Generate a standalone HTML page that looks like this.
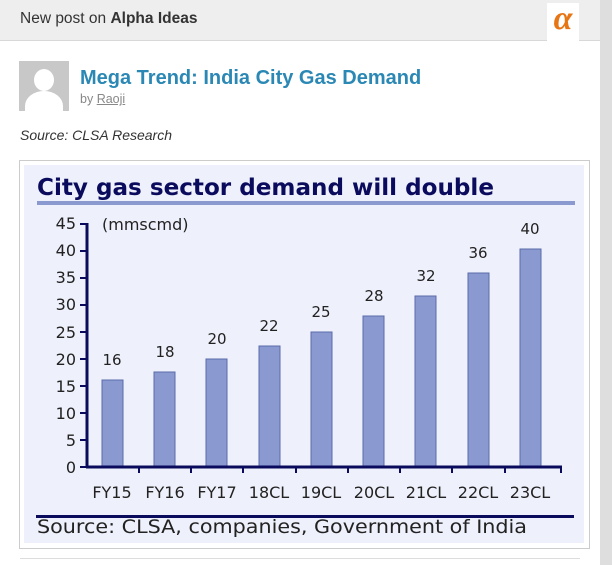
<!DOCTYPE html>
<html><head><style>
body{margin:0;width:612px;height:565px;background:#fff;font-family:"Liberation Sans",sans-serif;position:relative;overflow:hidden}
.hdr{position:absolute;left:0;top:0;width:600px;height:40px;background:#eeeeee;border-bottom:1px solid #d8d8d8}
.sb{position:absolute;left:600px;top:0;width:12px;height:565px;background:#dedede}
</style></head><body>
<div class="hdr"></div><div class="sb"></div>
<div style="position:absolute;left:20px;top:10px;font-size:15.5px;color:#333">New post on <b>Alpha Ideas</b></div>
<div style="position:absolute;left:547px;top:3px;width:32px;height:38px;background:#fff;color:#e87514;font:italic bold 34px 'Liberation Serif',serif;text-align:center;line-height:32px">α</div>
<div style="position:absolute;left:19px;top:61px;width:50px;height:50px;background:#c8c8c8;overflow:hidden">
<div style="position:absolute;left:15px;top:8px;width:20px;height:22px;border-radius:50%;background:#fff"></div>
<div style="position:absolute;left:6px;top:30px;width:38px;height:30px;border-radius:50% 50% 0 0;background:#fff"></div></div>
<div style="position:absolute;left:80px;top:67px;font-size:20px;font-weight:bold;color:#2b88b5">Mega Trend: India City Gas Demand</div>
<div style="position:absolute;left:80px;top:92px;font-size:12.5px;color:#888">by <span style="text-decoration:underline">Raoji</span></div>
<div style="position:absolute;left:20px;top:127px;font-size:14px;font-style:italic;color:#333">Source: CLSA Research</div>
<div style="position:absolute;left:19px;top:160px;width:569px;height:387px;border:1px solid #ccc"></div>
<svg style="position:absolute;left:0;top:0" width="612" height="565" font-family="DejaVu Sans, sans-serif">
<rect x="24" y="165" width="560" height="378" fill="#eef0fb"/>
<text x="37" y="195" font-size="23" font-weight="bold" fill="#0b0b5e" textLength="457" lengthAdjust="spacingAndGlyphs">City gas sector demand will double</text>
<rect x="37" y="201" width="538" height="4" fill="#8a9ad0"/>
<g fill="#222" font-size="16" text-anchor="end">
<text x="76" y="473">0</text><text x="76" y="446">5</text><text x="76" y="419">10</text><text x="76" y="392">15</text><text x="76" y="365">20</text><text x="76" y="338">25</text><text x="76" y="310">30</text><text x="76" y="283">35</text><text x="76" y="256">40</text><text x="76" y="229">45</text>
</g>
<text x="102" y="230" font-size="16" fill="#222">(mmscmd)</text>
<g fill="#8a9ad0" stroke="#5a6aa8" stroke-width="1">
<rect x="102" y="380" width="21" height="87"/>
<rect x="154" y="372" width="21" height="95"/>
<rect x="206" y="359" width="21" height="108"/>
<rect x="259" y="346" width="21" height="121"/>
<rect x="311" y="332" width="21" height="135"/>
<rect x="363" y="316" width="21" height="151"/>
<rect x="415" y="296" width="21" height="171"/>
<rect x="468" y="273" width="21" height="194"/>
<rect x="520" y="249" width="21" height="218"/>
</g>
<g fill="#222" font-size="15" text-anchor="middle">
<text x="112" y="365">16</text><text x="165" y="357">18</text><text x="217" y="344">20</text><text x="269" y="331">22</text><text x="321" y="317">25</text><text x="374" y="301">28</text><text x="426" y="281">32</text><text x="478" y="258">36</text><text x="530" y="234">40</text>
</g>
<g stroke="#0b0b5e" stroke-width="3">
<line x1="87" y1="223" x2="87" y2="468"/>
<line x1="86" y1="467" x2="562" y2="467"/>
</g>
<g stroke="#0b0b5e" stroke-width="2">
<line x1="80" y1="467" x2="87" y2="467"/><line x1="80" y1="440" x2="87" y2="440"/><line x1="80" y1="413" x2="87" y2="413"/><line x1="80" y1="386" x2="87" y2="386"/><line x1="80" y1="359" x2="87" y2="359"/><line x1="80" y1="332" x2="87" y2="332"/><line x1="80" y1="305" x2="87" y2="305"/><line x1="80" y1="278" x2="87" y2="278"/><line x1="80" y1="251" x2="87" y2="251"/><line x1="80" y1="224" x2="87" y2="224"/>
<line x1="139" y1="467" x2="139" y2="473"/><line x1="191" y1="467" x2="191" y2="473"/><line x1="243" y1="467" x2="243" y2="473"/><line x1="296" y1="467" x2="296" y2="473"/><line x1="348" y1="467" x2="348" y2="473"/><line x1="400" y1="467" x2="400" y2="473"/><line x1="452" y1="467" x2="452" y2="473"/><line x1="505" y1="467" x2="505" y2="473"/><line x1="561" y1="467" x2="561" y2="473"/>
</g>
<g fill="#222" font-size="16" text-anchor="middle">
<text x="112" y="498">FY15</text><text x="165" y="498">FY16</text><text x="217" y="498">FY17</text><text x="269" y="498">18CL</text><text x="321" y="498">19CL</text><text x="374" y="498">20CL</text><text x="426" y="498">21CL</text><text x="478" y="498">22CL</text><text x="530" y="498">23CL</text>
</g>
<rect x="36" y="515" width="538" height="3" fill="#0b0b5e"/>
<text x="37" y="533" font-size="19" fill="#222" textLength="490" lengthAdjust="spacingAndGlyphs">Source: CLSA, companies, Government of India</text>
<rect x="20" y="558" width="560" height="1" fill="#ddd"/>
</svg>
</body></html>
